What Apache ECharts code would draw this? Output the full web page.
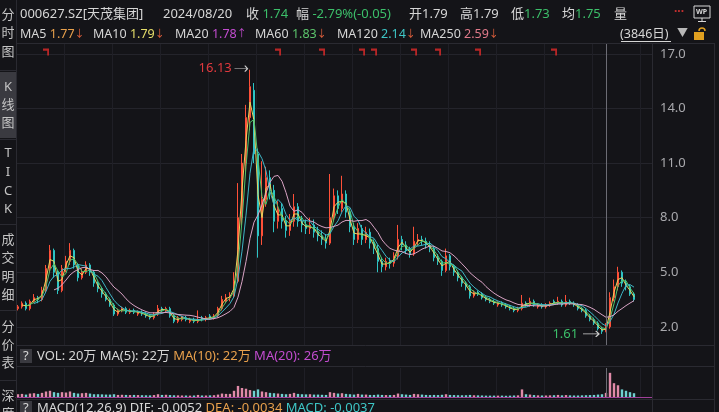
<!DOCTYPE html>
<html><head><meta charset="utf-8">
<script src="https://cdn.jsdelivr.net/npm/echarts/dist/echarts.min.js"></script>
<style>html,body{margin:0;padding:0;background:#141418;overflow:hidden}#c{width:719px;height:412px}</style>
</head><body><div id="c"></div>
<script>
// ---- data (one sample ≈ 25 trading days) ----
const opens = [3.0,3.1,3.3,3.0,3.4,3.6,3.5,4.0,5.2,6.2,
 5.0,4.0,5.2,5.6,6.2,5.4,4.7,5.0,5.4,5.0,
 4.4,4.1,3.8,3.5,3.2,2.7,2.9,3.0,2.8,2.9,
 2.7,2.8,2.7,2.6,2.5,2.7,3.0,2.9,3.0,2.6,
 2.3,2.4,2.5,2.3,2.4,2.3,2.5,2.4,2.6,2.5,
 2.6,3.0,3.4,3.6,3.7,4.5,8.0,11.0,13.5,15.0,
 11.5,7.0,9.0,10.2,9.5,7.8,8.5,7.8,7.3,7.8,
 8.6,7.8,7.6,7.4,7.6,7.2,7.0,6.8,6.6,8.0,
 9.2,8.5,9.3,8.3,7.5,6.8,7.4,6.8,7.2,6.6,
 6.3,5.6,5.3,5.6,5.5,5.9,6.8,6.5,6.2,6.0,
 6.7,6.8,6.7,6.5,6.3,5.8,5.6,5.1,5.9,5.3,
 5.0,4.7,4.4,4.2,3.7,3.9,3.8,3.6,3.5,3.4,
 3.2,3.3,3.2,3.1,3.0,2.9,3.0,3.3,3.2,3.4,
 3.1,3.2,3.1,3.2,3.4,3.3,3.4,3.2,3.4,3.3,
 3.2,3.0,2.9,2.6,2.4,2.2,1.9,1.75,2.0,3.6,
 4.2,5.0,4.4,4.2,3.8];
const closes = [3.1,3.3,3.0,3.4,3.6,3.5,4.0,5.2,6.2,5.0,
 4.0,5.2,5.6,6.2,5.4,4.7,5.0,5.4,5.0,4.4,
 4.1,3.8,3.5,3.2,2.7,2.9,3.0,2.8,2.9,2.8,
 2.8,2.7,2.6,2.5,2.7,3.0,2.9,3.0,2.6,2.3,
 2.5,2.5,2.4,2.4,2.3,2.4,2.4,2.5,2.5,2.6,
 3.0,3.5,3.6,3.7,4.5,8.0,11.0,13.5,15.2,11.5,
 7.0,9.0,10.2,9.5,7.8,8.5,7.8,7.3,7.8,8.6,
 7.8,7.6,7.4,7.6,7.2,7.0,6.8,6.6,8.0,9.2,
 8.5,9.3,8.3,7.5,6.8,7.4,6.8,7.2,6.6,6.3,
 5.6,5.3,5.6,5.5,5.9,6.8,6.5,6.2,6.0,6.7,
 6.8,6.7,6.5,6.3,5.8,5.6,5.1,5.9,5.3,5.0,
 4.7,4.4,4.2,3.7,3.9,3.8,3.6,3.5,3.4,3.3,
 3.3,3.2,3.1,3.0,2.9,3.0,3.3,3.2,3.4,3.2,
 3.2,3.1,3.2,3.3,3.3,3.4,3.2,3.4,3.3,3.2,
 3.0,2.9,2.6,2.4,2.2,1.9,1.75,2.0,3.6,4.2,
 5.0,4.4,4.2,3.8,3.5];
const lows = [2.9,3.0,2.9,2.9,3.3,3.3,3.4,3.9,5.0,4.7,
 3.8,3.9,5.0,5.4,5.2,4.5,4.6,4.9,4.8,4.2,
 3.9,3.6,3.4,3.1,2.6,2.6,2.8,2.7,2.7,2.7,
 2.6,2.6,2.5,2.4,2.4,2.6,2.8,2.8,2.5,2.2,
 2.2,2.3,2.3,2.2,2.2,2.2,2.3,2.3,2.4,2.4,
 2.5,2.9,3.3,3.4,3.6,4.4,7.6,10.5,12.8,11.0,
 5.8,6.5,8.6,9.0,7.2,7.4,7.4,6.9,7.0,7.5,
 7.5,7.2,7.1,7.1,6.9,6.7,6.5,6.3,6.5,7.8,
 8.2,8.3,8.0,7.2,6.5,6.6,6.5,6.6,6.3,6.0,
 5.0,5.0,5.1,5.2,5.3,5.7,6.2,6.0,5.8,5.9,
 6.5,6.5,6.3,6.1,5.6,5.4,4.8,5.0,5.1,4.8,
 4.5,4.2,4.0,3.55,3.6,3.7,3.5,3.4,3.3,3.2,
 3.1,3.1,3.0,2.9,2.8,2.8,2.9,3.1,3.1,3.1,
 3.0,3.0,3.0,3.1,3.2,3.2,3.1,3.1,3.2,3.1,
 2.9,2.8,2.5,2.3,2.1,1.8,1.61,1.7,1.9,3.4,
 4.0,4.2,4.0,3.7,3.4];
const highs = [3.2,3.4,3.4,3.5,3.8,3.7,4.2,5.4,6.5,6.3,
 5.1,5.4,5.9,6.6,6.3,5.5,5.2,5.6,5.5,5.1,
 4.5,4.2,3.9,3.6,3.3,3.0,3.1,3.1,3.0,3.0,
 2.9,2.9,2.8,2.7,2.8,3.2,3.1,3.1,3.1,2.7,
 2.6,2.6,2.6,2.5,2.5,2.9,2.6,2.6,2.7,2.7,
 3.1,3.7,3.8,3.9,5.0,9.9,11.5,14.2,16.13,15.4,
 11.8,11.1,10.8,10.6,9.8,8.9,8.8,8.1,8.2,9.3,
 8.8,8.1,7.9,8.0,7.9,7.5,7.3,7.1,10.4,9.6,
 9.5,10.3,9.5,8.5,7.7,7.7,7.6,7.5,7.4,6.8,
 6.5,5.8,5.8,5.8,6.1,7.6,7.0,6.7,6.4,7.5,
 7.1,7.0,6.9,6.7,6.4,6.0,5.7,6.3,6.0,5.4,
 5.1,4.8,4.5,4.3,4.0,4.0,3.9,3.7,3.6,3.5,
 3.4,3.4,3.3,3.2,3.1,3.1,3.75,3.4,3.6,3.5,
 3.3,3.3,3.3,3.4,3.5,3.65,3.5,3.75,3.5,3.4,
 3.3,3.1,3.0,2.7,2.5,2.3,2.0,2.2,3.9,4.6,
 5.3,5.1,4.6,4.3,3.9];
const volumes = [40,45,35,50,55,45,60,80,90,70,
 60,70,65,80,60,50,55,60,50,40,
 40,38,35,35,40,30,32,30,28,30,
 28,26,25,24,28,40,30,32,28,25,
 24,22,22,20,22,30,22,22,24,26,
 35,50,45,45,90,160,130,120,100,90,
 110,80,70,60,55,50,45,40,45,60,
 45,40,38,40,35,35,32,30,70,60,
 50,55,45,40,35,45,35,35,30,30,
 35,30,28,28,30,50,40,35,30,45,
 40,35,30,28,30,28,32,40,30,28,
 26,25,26,30,25,24,22,20,20,20,
 20,20,18,20,22,24,110,40,35,28,
 24,22,22,24,26,30,24,28,24,22,
 22,24,26,28,30,35,40,60,350,200,
 170,110,90,70,55];
const eventIdx = [7,65,76,86,89,99,105,115,134];
const crossIdx = 147;
const yTicks = [2,5,8,11,14,17];
const maWindows = [2,3,5,10];
const maColors = ['#e6d45c','#4fc46a','#3fb6c6','#d9a3c4'];
const padCats = ['pad1','pad2','pad3','pad4'];
const categories = closes.map((_, i) => 'S' + (i + 1)).concat(padCats);

function calcMA(w) {
  return closes.map((_, i) => {
    if (i < w - 1) return '-';
    let s = 0;
    for (let k = i - w + 1; k <= i; k++) s += closes[k];
    return +(s / w).toFixed(3);
  });
}

const UP = '#ff5038', DOWN = '#2ec4c4';
const FONT = '"Noto Sans","Noto Sans CJK SC",sans-serif';
const kData = closes.map((c, i) => [opens[i], c, lows[i], highs[i]]);

const chart = echarts.init(document.getElementById('c'), null, {renderer: 'canvas'});

function txt(x, y, text, rich, size) {
  return {type: 'text', x: x, y: y, z: 100,
    style: {text: text, rich: rich, fill: '#d6d6d6', font: (size || 13) + 'px ' + FONT,
      verticalAlign: 'middle', align: 'left'}};
}
function ln(x1, y1, x2, y2, c) {
  return {type: 'line', z: 50, shape: {x1, y1, x2, y2}, style: {stroke: c || '#2a2a31', lineWidth: 1}};
}
function mk(fill, size) { return {fill: fill, font: (size || 13) + 'px ' + FONT}; }
const R = {
  w: mk('#d6d6d6'), g: mk('#3cbf6a'), o: mk('#e8a04c'), y: mk('#e6de6a'),
  m: mk('#c24ccf'), gr: mk('#5cc46c'), c: mk('#3ec6c6'), p: mk('#e07a8a')
};
const R2 = {
  w: mk('#d6d6d6', 12.5), o: mk('#e8a04c', 12.5), y: mk('#e6de6a', 12.5), m: mk('#c24ccf', 12.5),
  gr: mk('#5cc46c', 12.5), c: mk('#3ec6c6', 12.5), p: mk('#e07a8a', 12.5),
  oa: mk('#e2603c', 10), ya: mk('#e2603c', 10), ma: mk('#c24ccf', 10),
  gra: mk('#e2603c', 10), ca: mk('#e2603c', 10), pa: mk('#e2603c', 10)
};
const sideChars = [['分',15],['时',33],['图',52],['K',87],['线',105],['图',123],
  ['T',153],['I',172],['C',191],['K',209],['成',240],['交',258],['明',277],['细',295],
  ['分',327],['价',345],['表',363],['深',396],['度',414]];

const graphics = [
  {type: 'rect', z: 40, shape: {x: 0, y: 72, width: 16, height: 66}, style: {fill: '#3a3a40'}},
  ln(16.5, 0, 16.5, 412),
  ln(0, 70.5, 16, 70.5), ln(0, 139.5, 16, 139.5), ln(0, 224.5, 16, 224.5), ln(0, 310.5, 16, 310.5), ln(0, 380.5, 16, 380.5),
  ln(17, 43.5, 714, 43.5), ln(17, 345.5, 714, 345.5), ln(17, 366.5, 714, 366.5), ln(17, 399.5, 714, 399.5),
  ln(652.5, 43, 652.5, 412), ln(714.5, 43, 714.5, 412),
  // header line 1
  txt(20, 14, '{w|000627.SZ[天茂集团]}', R),
  txt(163, 14, '{w|2024/08/20}', R),
  txt(246, 14, '{w|收 }{g|1.74}', R),
  txt(296, 14, '{w|幅 }{g|-2.79%(-0.05)}', R),
  txt(409, 14, '{w|开1.79}', R),
  txt(460, 14, '{w|高1.79}', R),
  txt(511, 14, '{w|低}{g|1.73}', R),
  txt(562, 14, '{w|均}{g|1.75}', R),
  txt(614, 14, '{w|量}', R),
  {type: 'text', x: 674, y: 12, z: 100, style: {text: '···', fill: '#c83030', font: 'bold 12px ' + FONT, verticalAlign: 'middle'}},
  {type: 'rect', z: 100, shape: {x: 694, y: 6, width: 16, height: 12}, style: {fill: 'none', stroke: '#d8d8d8', lineWidth: 1}},
  {type: 'text', x: 696, y: 12, z: 100, style: {text: 'WP', fill: '#d8d8d8', font: 'bold 7px ' + FONT, verticalAlign: 'middle'}},
  ln(702, 18, 702, 21, '#d8d8d8'), ln(698, 21.5, 706, 21.5, '#d8d8d8'),
  // header line 2
  txt(20, 34, '{w|MA5 }{o|1.77}{oa|↓}', R2),
  txt(93, 34, '{w|MA10 }{y|1.79}{ya|↓}', R2),
  txt(175, 34, '{w|MA20 }{m|1.78}{ma|↑}', R2),
  txt(255, 34, '{w|MA60 }{gr|1.83}{gra|↓}', R2),
  txt(337, 34, '{w|MA120 }{c|2.14}{ca|↓}', R2),
  txt(420, 34, '{w|MA250 }{p|2.59}{pa|↓}', R2),
  txt(620, 34, '{w|(3846日)}', R2),
  ln(621, 41.5, 671, 41.5, '#d6d6d6'),
  {type: 'text', x: 677, y: 34, z: 100, style: {text: '▼', fill: '#b8b8b8', font: '11px ' + FONT, verticalAlign: 'middle'}},
  {type: 'rect', z: 100, shape: {x: 694, y: 32, width: 10, height: 8}, style: {fill: '#e0a020'}},
  {type: 'arc', z: 100, shape: {cx: 702, cy: 31, r: 3, startAngle: Math.PI, endAngle: 2 * Math.PI}, style: {fill: 'none', stroke: '#e0a020', lineWidth: 1.5}},
  // VOL header
  {type: 'rect', z: 90, shape: {x: 20, y: 349, width: 12, height: 14}, style: {fill: '#3a3a40'}},
  txt(23, 356, '{w|?}', R),
  txt(37, 356, '{w|VOL: 20万 MA(5): 22万 }{o|MA(10): 22万 }{m|MA(20): 26万}', R),
  // MACD header
  {type: 'rect', z: 90, shape: {x: 20, y: 401, width: 12, height: 14}, style: {fill: '#3a3a40'}},
  txt(23, 408, '{w|?}', R),
  txt(37, 408, '{w|MACD(12,26,9) DIF: -0.0052 }{o|DEA: -0.0034 }{c|MACD: -0.0037}', R)
];
sideChars.forEach(([ch, y]) => graphics.push({type: 'text', x: 8, y: y, z: 100,
  style: {text: ch, fill: '#c4c4c4', font: '13px ' + FONT, align: 'center', verticalAlign: 'middle'}}));

const arrowPath = 'path://M0,3 L20,3 M16,0 L20,3 L16,6';
const crossLine = {symbol: 'none', silent: true, label: {show: false},
  lineStyle: {color: '#6c6c74', width: 1, type: 'solid'}, data: [{xAxis: categories[crossIdx]}]};

const series = [
  {type: 'candlestick', name: 'K', xAxisIndex: 0, yAxisIndex: 0, data: kData, barWidth: 2.4, z: 3,
    itemStyle: {color: UP, color0: DOWN, borderColor: UP, borderColor0: DOWN, borderWidth: 1},
    markLine: crossLine,
    markPoint: {
      symbol: arrowPath,
      itemStyle: {color: 'rgba(0,0,0,0)', borderColor: '#cfcfcf', borderWidth: 1},
      data: [
        {type: 'max', valueDim: 'highest', symbolSize: [13, 6], symbolOffset: [-9, -1],
          label: {show: true, position: 'left', distance: 2, color: '#e0393e', fontSize: 13, fontFamily: FONT,
            formatter: p => Number(p.value).toFixed(2)}},
        {type: 'min', valueDim: 'lowest', symbolSize: [16, 6], symbolOffset: [-11, 0],
          label: {show: true, position: 'left', distance: 4, color: '#3cbf6a', fontSize: 13, fontFamily: FONT,
            formatter: p => Number(p.value).toFixed(2)}}
      ]
    }
  }
];
maWindows.forEach((w, k) => series.push({type: 'line', name: 'MA' + w, xAxisIndex: 0, yAxisIndex: 0,
  data: calcMA(w), showSymbol: false, symbol: 'none', z: 4, silent: true,
  lineStyle: {color: maColors[k], width: 1}}));
series.push({type: 'scatter', name: 'events', xAxisIndex: 0, yAxisIndex: 0, z: 6,
  symbol: 'path://M0,0 L10,0 L10,10 L7,10 L7,3 L0,3 Z', symbolSize: [6, 7],
  itemStyle: {color: '#e02a2a'},
  data: eventIdx.map(i => [categories[i], 17.1])});
series.push({type: 'bar', name: 'VOL', xAxisIndex: 1, yAxisIndex: 1, barWidth: 2.4,
  data: volumes.map((v, i) => ({value: v, itemStyle: {color: closes[i] >= opens[i] ? '#e08aa8' : '#6fd0d0'}})),
  markLine: crossLine});

chart.setOption({
  animation: false,
  backgroundColor: '#141418',
  grid: [
    {left: 16, right: 67, top: 43, bottom: 67},
    {left: 16, right: 67, top: 368, bottom: 15}
  ],
  xAxis: [
    {type: 'category', gridIndex: 0, data: categories, boundaryGap: true,
      axisLine: {show: false}, axisTick: {show: false}, axisLabel: {show: false},
      splitLine: {show: true, interval: 11, lineStyle: {color: '#1f1f26'}}},
    {type: 'category', gridIndex: 1, data: categories, boundaryGap: true,
      axisLine: {show: true, lineStyle: {color: '#a0409a', width: 1}}, axisTick: {show: false}, axisLabel: {show: false},
      splitLine: {show: true, interval: 11, lineStyle: {color: '#1f1f26'}}}
  ],
  yAxis: [
    {type: 'value', gridIndex: 0, position: 'right', min: 1, max: 17.6, interval: 1, scale: false,
      axisLine: {show: false}, axisTick: {show: false},
      axisLabel: {color: '#a9a9ad', fontSize: 13, fontFamily: FONT, margin: 8,
        formatter: v => yTicks.includes(v) ? v.toFixed(1) : ''},
      splitLine: {show: true, lineStyle: {color: ['rgba(0,0,0,0)', '#24242b', 'rgba(0,0,0,0)']}}},
    {type: 'value', gridIndex: 1, min: 0, max: 420, show: false}
  ],
  graphic: graphics,
  series: series
});
</script>
</body></html>
